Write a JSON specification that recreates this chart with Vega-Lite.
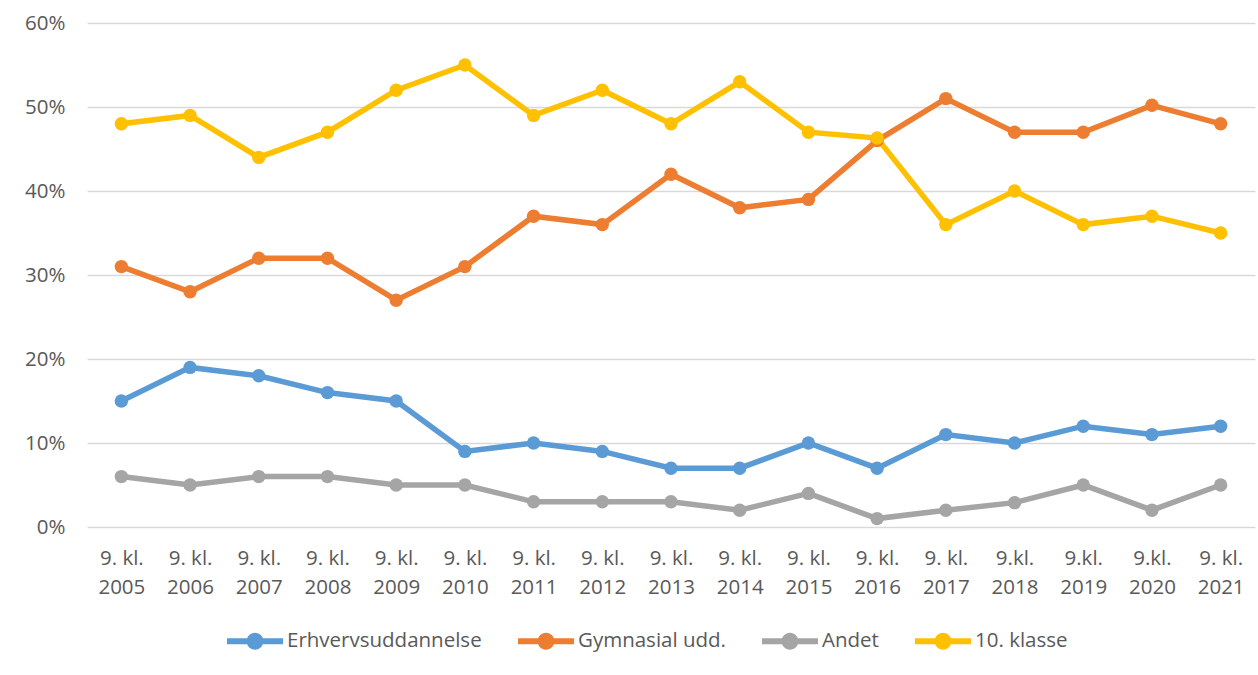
{
  "$schema": "https://vega.github.io/schema/vega-lite/v6.json",
  "autosize": "none",
  "width": 1168,
  "height": 504,
  "padding": {"left": 87, "top": 23, "right": 3, "bottom": 148},
  "background": "white",
  "config": {
    "view": {"stroke": null},
    "font": "Open Sans",
    "axis": {"labelFont": "Open Sans", "labelColor": "#595959", "labelFontSize": 20.5}
  },
  "data": {
    "values": [
      {"aar": "9. kl. 2005", "serie": "Erhvervsuddannelse", "andel": 0.15},
      {"aar": "9. kl. 2006", "serie": "Erhvervsuddannelse", "andel": 0.19},
      {"aar": "9. kl. 2007", "serie": "Erhvervsuddannelse", "andel": 0.18},
      {"aar": "9. kl. 2008", "serie": "Erhvervsuddannelse", "andel": 0.16},
      {"aar": "9. kl. 2009", "serie": "Erhvervsuddannelse", "andel": 0.15},
      {"aar": "9. kl. 2010", "serie": "Erhvervsuddannelse", "andel": 0.09},
      {"aar": "9. kl. 2011", "serie": "Erhvervsuddannelse", "andel": 0.10},
      {"aar": "9. kl. 2012", "serie": "Erhvervsuddannelse", "andel": 0.09},
      {"aar": "9. kl. 2013", "serie": "Erhvervsuddannelse", "andel": 0.07},
      {"aar": "9. kl. 2014", "serie": "Erhvervsuddannelse", "andel": 0.07},
      {"aar": "9. kl. 2015", "serie": "Erhvervsuddannelse", "andel": 0.10},
      {"aar": "9. kl. 2016", "serie": "Erhvervsuddannelse", "andel": 0.07},
      {"aar": "9. kl. 2017", "serie": "Erhvervsuddannelse", "andel": 0.11},
      {"aar": "9.kl. 2018", "serie": "Erhvervsuddannelse", "andel": 0.10},
      {"aar": "9.kl. 2019", "serie": "Erhvervsuddannelse", "andel": 0.12},
      {"aar": "9.kl. 2020", "serie": "Erhvervsuddannelse", "andel": 0.11},
      {"aar": "9. kl. 2021", "serie": "Erhvervsuddannelse", "andel": 0.12},
      {"aar": "9. kl. 2005", "serie": "Gymnasial udd.", "andel": 0.31},
      {"aar": "9. kl. 2006", "serie": "Gymnasial udd.", "andel": 0.28},
      {"aar": "9. kl. 2007", "serie": "Gymnasial udd.", "andel": 0.32},
      {"aar": "9. kl. 2008", "serie": "Gymnasial udd.", "andel": 0.32},
      {"aar": "9. kl. 2009", "serie": "Gymnasial udd.", "andel": 0.27},
      {"aar": "9. kl. 2010", "serie": "Gymnasial udd.", "andel": 0.31},
      {"aar": "9. kl. 2011", "serie": "Gymnasial udd.", "andel": 0.37},
      {"aar": "9. kl. 2012", "serie": "Gymnasial udd.", "andel": 0.36},
      {"aar": "9. kl. 2013", "serie": "Gymnasial udd.", "andel": 0.42},
      {"aar": "9. kl. 2014", "serie": "Gymnasial udd.", "andel": 0.38},
      {"aar": "9. kl. 2015", "serie": "Gymnasial udd.", "andel": 0.39},
      {"aar": "9. kl. 2016", "serie": "Gymnasial udd.", "andel": 0.46},
      {"aar": "9. kl. 2017", "serie": "Gymnasial udd.", "andel": 0.51},
      {"aar": "9.kl. 2018", "serie": "Gymnasial udd.", "andel": 0.47},
      {"aar": "9.kl. 2019", "serie": "Gymnasial udd.", "andel": 0.47},
      {"aar": "9.kl. 2020", "serie": "Gymnasial udd.", "andel": 0.502},
      {"aar": "9. kl. 2021", "serie": "Gymnasial udd.", "andel": 0.48},
      {"aar": "9. kl. 2005", "serie": "Andet", "andel": 0.06},
      {"aar": "9. kl. 2006", "serie": "Andet", "andel": 0.05},
      {"aar": "9. kl. 2007", "serie": "Andet", "andel": 0.06},
      {"aar": "9. kl. 2008", "serie": "Andet", "andel": 0.06},
      {"aar": "9. kl. 2009", "serie": "Andet", "andel": 0.05},
      {"aar": "9. kl. 2010", "serie": "Andet", "andel": 0.05},
      {"aar": "9. kl. 2011", "serie": "Andet", "andel": 0.03},
      {"aar": "9. kl. 2012", "serie": "Andet", "andel": 0.03},
      {"aar": "9. kl. 2013", "serie": "Andet", "andel": 0.03},
      {"aar": "9. kl. 2014", "serie": "Andet", "andel": 0.02},
      {"aar": "9. kl. 2015", "serie": "Andet", "andel": 0.04},
      {"aar": "9. kl. 2016", "serie": "Andet", "andel": 0.01},
      {"aar": "9. kl. 2017", "serie": "Andet", "andel": 0.02},
      {"aar": "9.kl. 2018", "serie": "Andet", "andel": 0.029},
      {"aar": "9.kl. 2019", "serie": "Andet", "andel": 0.05},
      {"aar": "9.kl. 2020", "serie": "Andet", "andel": 0.02},
      {"aar": "9. kl. 2021", "serie": "Andet", "andel": 0.05},
      {"aar": "9. kl. 2005", "serie": "10. klasse", "andel": 0.48},
      {"aar": "9. kl. 2006", "serie": "10. klasse", "andel": 0.49},
      {"aar": "9. kl. 2007", "serie": "10. klasse", "andel": 0.44},
      {"aar": "9. kl. 2008", "serie": "10. klasse", "andel": 0.47},
      {"aar": "9. kl. 2009", "serie": "10. klasse", "andel": 0.52},
      {"aar": "9. kl. 2010", "serie": "10. klasse", "andel": 0.55},
      {"aar": "9. kl. 2011", "serie": "10. klasse", "andel": 0.49},
      {"aar": "9. kl. 2012", "serie": "10. klasse", "andel": 0.52},
      {"aar": "9. kl. 2013", "serie": "10. klasse", "andel": 0.48},
      {"aar": "9. kl. 2014", "serie": "10. klasse", "andel": 0.53},
      {"aar": "9. kl. 2015", "serie": "10. klasse", "andel": 0.47},
      {"aar": "9. kl. 2016", "serie": "10. klasse", "andel": 0.463},
      {"aar": "9. kl. 2017", "serie": "10. klasse", "andel": 0.36},
      {"aar": "9.kl. 2018", "serie": "10. klasse", "andel": 0.40},
      {"aar": "9.kl. 2019", "serie": "10. klasse", "andel": 0.36},
      {"aar": "9.kl. 2020", "serie": "10. klasse", "andel": 0.37},
      {"aar": "9. kl. 2021", "serie": "10. klasse", "andel": 0.35}
    ]
  },
  "encoding": {
    "x": {
      "field": "aar", "type": "nominal", "sort": null, "title": null,
      "scale": {"paddingInner": 0, "paddingOuter": 0.5},
      "axis": {
        "labelAngle": 0, "domain": false, "ticks": false, "labelPadding": 21,
        "labelLineHeight": 29, "labelBaseline": "top",
        "labelExpr": "[slice(datum.label, 0, -5), slice(datum.label, -4)]"
      }
    },
    "y": {
      "field": "andel", "type": "quantitative", "title": null,
      "scale": {"domain": [0, 0.6], "nice": false},
      "axis": {
        "values": [0, 0.1, 0.2, 0.3, 0.4, 0.5, 0.6], "format": ".0%",
        "domain": false, "ticks": false, "labelPadding": 22,
        "gridColor": "#d9d9d9", "gridWidth": 1.5
      }
    },
    "color": {
      "field": "serie", "type": "nominal", "title": null,
      "scale": {
        "domain": ["Erhvervsuddannelse", "Gymnasial udd.", "Andet", "10. klasse"],
        "range": ["#5B9BD5", "#ED7D31", "#A5A5A5", "#FFC000"]
      },
      "legend": {
        "orient": "none", "legendX": 140, "legendY": 590, "direction": "horizontal",
        "symbolType": "M-1,-0.107H1V0.107H-1Z M-0.3,0A0.3,0.3 0 1,1 0.3,0A0.3,0.3 0 1,1 -0.3,0Z",
        "symbolSize": 3136, "symbolStrokeWidth": 0,
        "labelFont": "Open Sans", "labelFontSize": 20.5, "labelColor": "#595959",
        "labelOffset": 4, "columnPadding": 36, "labelLimit": 400
      }
    }
  },
  "layer": [
    {"mark": {"type": "line", "strokeWidth": 5.5}},
    {"mark": {"type": "point", "filled": true, "size": 180, "opacity": 1}}
  ]
}
